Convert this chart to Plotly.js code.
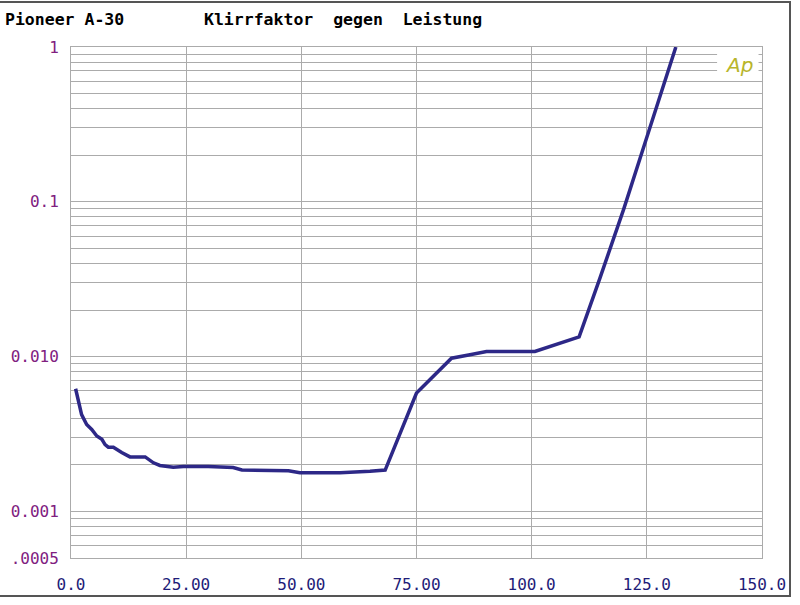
<!DOCTYPE html>
<html>
<head>
<meta charset="utf-8">
<script src="https://cdn.plot.ly/plotly-3.0.1.min.js"></script>
<style>
  html, body { margin: 0; padding: 0; background: #fff; }
  #wrap { position: relative; width: 800px; height: 605px; overflow: hidden; }
  #chart { position: absolute; left: 0; top: 0; width: 800px; height: 605px; }
  #frame { position: absolute; left: -4px; top: 1px; width: 793px; height: 592px;
           border-top: 2px solid #555; border-right: 2px solid #555; border-bottom: 2px solid #555;
           pointer-events: none; }
</style>
</head>
<body>
<div id="wrap">
  <div id="chart"></div>
  <div id="frame"></div>
</div>
<script>
// Output power (W) and THD (fraction)
const power = [1.0, 1.6, 2.3, 3.4, 4.5, 5.6, 6.7, 7.4, 8.1, 9.2, 11.0, 12.8, 16.1, 17.9, 19.3, 22.2, 24.4, 29.8, 35.2, 37.1, 47.2, 49.7, 58.4, 64.9, 68.2, 75.0, 78.3, 82.6, 86.6, 90.2, 100.7, 110.3, 114.8, 120.0, 125.0, 131.3];
const thd   = [0.0062, 0.00515, 0.00422, 0.00364, 0.00338, 0.00307, 0.00292, 0.0027, 0.0026, 0.0026, 0.0024, 0.00225, 0.00225, 0.00206, 0.00198, 0.00193, 0.00195, 0.00195, 0.00192, 0.00185, 0.00183, 0.00178, 0.00178, 0.00182, 0.00185, 0.00582, 0.00728, 0.00977, 0.01028, 0.0108, 0.0108, 0.0134, 0.032, 0.09, 0.261, 1.0];

const xTickVals = [0, 25, 50, 75, 100, 125, 150];
const xTickText = ["0.0", "25.00", "50.00", "75.00", "100.0", "125.0", "150.0"];
const yTickVals = [1, 0.1, 0.01, 0.001, 0.0005];
const yTickText = ["1", "0.1", "0.010", "0.001", ".0005"];
const yMinorVals = [0.0006, 0.0007, 0.0008, 0.0009,
  0.002, 0.003, 0.004, 0.005, 0.006, 0.007, 0.008, 0.009,
  0.02, 0.03, 0.04, 0.05, 0.06, 0.07, 0.08, 0.09,
  0.2, 0.3, 0.4, 0.5, 0.6, 0.7, 0.8, 0.9];

const titleLeft = "Pioneer A-30";
const titleMain = "Klirrfaktor  gegen  Leistung";

const mono = "DejaVu Sans Mono, Liberation Mono, monospace";
const grid = "#ababab";

const trace = {
  x: power, y: thd, type: "scatter", mode: "lines",
  line: { color: "#2d2887", width: 3.5 },
  hoverinfo: "skip"
};

const layout = {
  width: 800, height: 605,
  margin: { l: 71, r: 38, t: 47, b: 47 },
  paper_bgcolor: "#fff", plot_bgcolor: "#fff",
  showlegend: false,
  xaxis: {
    range: [0, 150], fixedrange: true,
    tickmode: "array", tickvals: xTickVals, ticktext: xTickText,
    showgrid: true, gridcolor: grid, gridwidth: 1,
    showline: true, linecolor: grid, linewidth: 1, mirror: true,
    zeroline: false, ticks: "", ticklabelstandoff: 12,
    tickfont: { family: mono, size: 16, color: "#1e1c78" }
  },
  yaxis: {
    type: "log", range: [Math.log10(0.0005), 0], fixedrange: true,
    tickmode: "array", tickvals: yTickVals, ticktext: yTickText,
    showgrid: true, gridcolor: grid, gridwidth: 1,
    showline: true, linecolor: grid, linewidth: 1, mirror: true,
    zeroline: false, ticks: "", ticklabelstandoff: 8,
    tickfont: { family: mono, size: 16, color: "#802080" },
    minor: { tickmode: "array", tickvals: yMinorVals, showgrid: true, gridcolor: grid, gridwidth: 1, ticks: "" }
  },
  shapes: [
    { type: "rect", xref: "paper", yref: "paper", x0: 0.935, x1: 0.995, y0: 0.944, y1: 0.996,
      fillcolor: "#fff", line: { width: 0 }, layer: "above" }
  ],
  annotations: [
    { text: titleLeft.replace(/ /g, "\u00a0"), xref: "paper", yref: "paper",
      x: (3 - 71) / 691, y: (558 - 20) / 511, xanchor: "left", yanchor: "middle", showarrow: false,
      font: { family: mono, size: 16.5, color: "#000", weight: "bold" } },
    { text: titleMain.replace(/ /g, "\u00a0"), xref: "paper", yref: "paper",
      x: (202 - 71) / 691, y: (558 - 20) / 511, xanchor: "left", yanchor: "middle", showarrow: false,
      font: { family: mono, size: 16.5, color: "#000", weight: "bold" } },
    { text: "<i>Ap</i>", xref: "paper", yref: "paper",
      x: (739 - 71) / 691, y: (558 - 65) / 511, xanchor: "center", yanchor: "middle", showarrow: false,
      font: { family: "DejaVu Sans, sans-serif", size: 20, color: "#b8b52c", weight: 300 } }
  ]
};

Plotly.newPlot("chart", [trace], layout, { staticPlot: true, displayModeBar: false });
</script>
</body>
</html>
